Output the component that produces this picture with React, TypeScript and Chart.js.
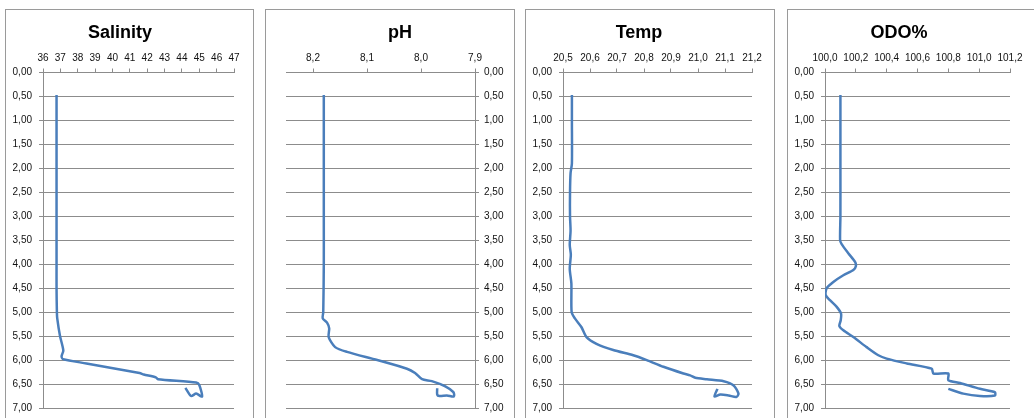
import React, { useEffect, useRef } from 'react';
import { Chart, registerables } from 'chart.js';

Chart.register(...registerables);

// ---- data (depth in m) ----
const depthTicks = [0, 0.5, 1, 1.5, 2, 2.5, 3, 3.5, 4, 4.5, 5, 5.5, 6, 6.5, 7];

const salinityTicks = [36, 37, 38, 39, 40, 41, 42, 43, 44, 45, 46, 47];
const salinityDepth = [0.47, 1.0, 2.0, 3.0, 4.0, 4.5, 5.0, 5.13, 5.5, 5.8, 5.92, 5.98, 6.07, 6.27, 6.3, 6.36, 6.4, 6.47, 6.52, 6.76, 6.7, 6.75, 6.58];
const salinityValue = [36.78, 36.78, 36.78, 36.78, 36.78, 36.78, 36.8, 36.82, 36.98, 37.17, 37.07, 37.15, 38.5, 41.56, 41.8, 42.5, 42.62, 44.82, 45.0, 45.16, 44.82, 44.53, 44.2];

const phTicks = [8.2, 8.1, 8.0, 7.9];
const phDepth = [0.47, 1.0, 2.0, 3.0, 4.0, 5.0, 5.13, 5.22, 5.34, 5.52, 5.73, 5.83, 6.0, 6.18, 6.27, 6.4, 6.44, 6.55, 6.67, 6.76, 6.74, 6.75, 6.72, 6.59];
const phValue = [8.18, 8.18, 8.18, 8.18, 8.18, 8.181, 8.182, 8.174, 8.17, 8.171, 8.159, 8.137, 8.081, 8.026, 8.011, 7.998, 7.98, 7.955, 7.94, 7.939, 7.952, 7.966, 7.97, 7.97];

const tempTicks = [20.5, 20.6, 20.7, 20.8, 20.9, 21.0, 21.1, 21.2];
const tempDepth = [0.47, 1.0, 1.9, 2.1, 2.5, 3.0, 3.3, 3.6, 3.8, 4.1, 4.4, 5.0, 5.13, 5.31, 5.52, 5.66, 5.79, 5.9, 6.0, 6.14, 6.28, 6.32, 6.37, 6.4, 6.44, 6.53, 6.7, 6.77, 6.74, 6.72, 6.76, 6.6];
const tempValue = [20.533, 20.533, 20.533, 20.528, 20.526, 20.526, 20.528, 20.525, 20.529, 20.525, 20.531, 20.532, 20.544, 20.568, 20.587, 20.624, 20.686, 20.76, 20.81, 20.872, 20.946, 20.971, 20.99, 21.033, 21.095, 21.132, 21.15, 21.142, 21.114, 21.083, 21.061, 21.072];

const odoTicks = [100.0, 100.2, 100.4, 100.6, 100.8, 101.0, 101.2];
const odoDepth = [0.47, 1.0, 2.0, 3.0, 3.5, 3.58, 3.77, 3.95, 4.04, 4.12, 4.23, 4.37, 4.5, 4.64, 4.75, 4.89, 5.03, 5.17, 5.29, 5.38, 5.52, 5.73, 5.9, 5.97, 6.07, 6.18, 6.28, 6.28, 6.42, 6.48, 6.6, 6.67, 6.74, 6.75, 6.7, 6.6];
const odoValue = [100.1, 100.1, 100.1, 100.1, 100.098, 100.108, 100.151, 100.195, 100.2, 100.184, 100.119, 100.054, 100.011, 100.004, 100.032, 100.076, 100.104, 100.102, 100.093, 100.119, 100.184, 100.27, 100.346, 100.4, 100.53, 100.692, 100.703, 100.8, 100.8, 100.876, 101.005, 101.102, 101.102, 101.005, 100.897, 100.8];

const FONT = '"Liberation Sans", Arial, sans-serif';
const GRID = '#8c8c8c';
const LINE = '#4a7ebb';

type PanelProps = {
  title: string;
  depth: number[];
  values: number[];
  xTicks: number[];
  xMin: number;
  xMax: number;
  reverseX: boolean;
  decimals: number;
  yRight: boolean;
  left: number;
  width: number;
  padLeft: number;
  padRight: number;
  axisWidth: number;
};

function Panel(p: PanelProps) {
  const ref = useRef<HTMLCanvasElement | null>(null);
  useEffect(() => {
    if (!ref.current) return;
    const chart = new Chart(ref.current, {
      type: 'scatter',
      data: {
        datasets: [
          {
            data: p.depth.map((d, i) => ({ x: p.values[i], y: d })),
            showLine: true,
            borderColor: LINE,
            borderWidth: 2.5,
            pointRadius: 0,
            tension: 0.25,
            fill: false,
          } as any,
        ],
      },
      options: {
        animation: false,
        responsive: false,
        layout: { padding: { left: p.padLeft, right: p.padRight, top: 0, bottom: 22 } },
        plugins: {
          legend: { display: false },
          tooltip: { enabled: false },
          title: {
            display: true,
            text: p.title,
            color: '#000',
            font: { family: FONT, size: 18, weight: 'bold' },
            padding: { top: 12, bottom: 4 },
          },
        },
        scales: {
          x: {
            type: 'linear',
            position: 'top',
            min: p.xMin,
            max: p.xMax,
            reverse: p.reverseX,
            afterBuildTicks: (s: any) => {
              s.ticks = p.xTicks.map((v) => ({ value: v }));
            },
            afterFit: (s: any) => {
              s.height = 24.9;
            },
            grid: { drawOnChartArea: false, drawTicks: true, tickLength: 4, color: GRID },
            border: { display: true, color: GRID, width: 1 },
            ticks: {
              padding: 4,
              autoSkip: false,
              maxRotation: 0,
              color: '#111',
              font: { family: FONT, size: 10 },
              callback: (v: any) => Number(v).toFixed(p.decimals).replace('.', ','),
            },
          },
          y: {
            type: 'linear',
            position: p.yRight ? 'right' : 'left',
            min: 0,
            max: 7,
            reverse: true,
            afterBuildTicks: (s: any) => {
              s.ticks = depthTicks.map((v) => ({ value: v }));
            },
            afterFit: (s: any) => {
              s.width = p.axisWidth;
            },
            grid: { color: GRID, tickLength: 4, drawTicks: true },
            border: { display: true, color: GRID, width: 1 },
            ticks: {
              padding: p.yRight ? 5 : 7,
              autoSkip: false,
              color: '#111',
              font: { family: FONT, size: 10 },
              callback: (v: any) => Number(v).toFixed(2).replace('.', ','),
            },
          },
        },
      } as any,
    });
    return () => chart.destroy();
  }, []);
  return (
    <div
      style={{
        position: 'fixed',
        left: p.left,
        top: 9,
        width: p.width,
        height: 420,
        border: '1px solid #9a9a9a',
        background: '#fff',
      }}
    >
      <canvas ref={ref} width={p.width} height={420} style={{ display: 'block' }} />
    </div>
  );
}

export default function App() {
  return (
    <div style={{ position: 'relative', width: 1034, height: 418 }}>
      <Panel title="Salinity" depth={salinityDepth} values={salinityValue} xTicks={salinityTicks}
        xMin={36} xMax={47} reverseX={false} decimals={0} yRight={false}
        left={5} width={247} padLeft={0} padRight={19} axisWidth={37} />
      <Panel title="pH" depth={phDepth} values={phValue} xTicks={phTicks}
        xMin={7.9} xMax={8.25} reverseX={true} decimals={1} yRight={true}
        left={265} width={248} padLeft={20} padRight={0} axisWidth={39} />
      <Panel title="Temp" depth={tempDepth} values={tempValue} xTicks={tempTicks}
        xMin={20.5} xMax={21.2} reverseX={false} decimals={1} yRight={false}
        left={525} width={248} padLeft={0} padRight={22} axisWidth={37} />
      <Panel title="ODO%" depth={odoDepth} values={odoValue} xTicks={odoTicks}
        xMin={100.0} xMax={101.2} reverseX={false} decimals={1} yRight={false}
        left={787} width={248} padLeft={0} padRight={26} axisWidth={37} />
    </div>
  );
}
